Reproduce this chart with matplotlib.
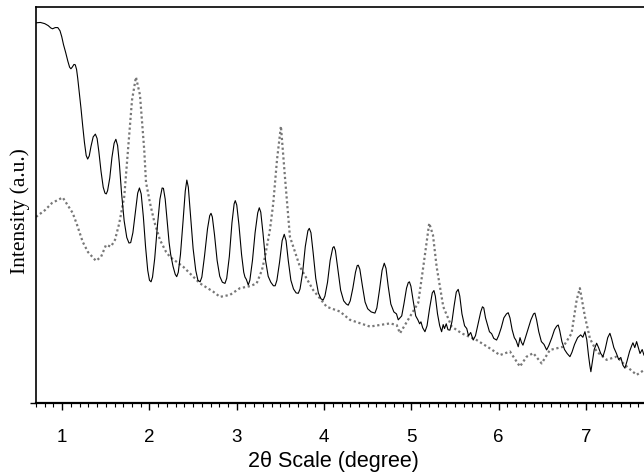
import matplotlib
matplotlib.use("Agg")
import matplotlib.pyplot as plt
from matplotlib.ticker import MultipleLocator

# Solid line (film, with Kiessig fringes)
film_x = [0.70, 0.75, 0.80, 0.84, 0.87, 0.89, 0.92, 0.95, 0.975, 0.995, 1.015, 1.04, 1.065, 1.085,
          1.10, 1.115, 1.135, 1.15, 1.165, 1.178, 1.195, 1.215, 1.235, 1.255, 1.275, 1.292, 1.31,
          1.33, 1.355, 1.38, 1.40, 1.42, 1.445, 1.47, 1.49, 1.505, 1.52, 1.545, 1.57, 1.595, 1.615,
          1.635, 1.655, 1.68, 1.71, 1.74, 1.765, 1.785, 1.81, 1.84, 1.865, 1.885, 1.905, 1.93,
          1.955, 1.98, 2.00, 2.018, 2.035, 2.06, 2.09, 2.12, 2.145, 2.16, 2.18, 2.205, 2.225,
          2.243, 2.27, 2.295, 2.312, 2.33, 2.355, 2.385, 2.41, 2.428, 2.445, 2.47, 2.50, 2.53,
          2.555, 2.58, 2.60, 2.63, 2.665, 2.69, 2.705, 2.72, 2.745, 2.775, 2.805, 2.835, 2.865,
          2.885, 2.915, 2.945, 2.97, 2.983, 3.00, 3.025, 3.055, 3.08, 3.094, 3.11, 3.132, 3.15,
          3.18, 3.21, 3.24, 3.258, 3.275, 3.30, 3.33, 3.36, 3.39, 3.42, 3.44, 3.46, 3.49, 3.52,
          3.544, 3.565, 3.59, 3.62, 3.65, 3.68, 3.705, 3.725, 3.755, 3.785, 3.815, 3.831, 3.85,
          3.875, 3.905, 3.935, 3.965, 3.99, 4.01, 4.04, 4.07, 4.10, 4.114, 4.13, 4.16, 4.19,
          4.225, 4.255, 4.277, 4.30, 4.33, 4.36, 4.38, 4.392, 4.41, 4.44, 4.47, 4.50, 4.54,
          4.583, 4.605, 4.635, 4.665, 4.69, 4.71, 4.735, 4.765, 4.80, 4.83, 4.85, 4.87, 4.89,
          4.915, 4.945, 4.965, 4.978, 4.995, 5.02, 5.05, 5.075, 5.095, 5.11, 5.13, 5.156, 5.18,
          5.21, 5.24, 5.259, 5.275, 5.30, 5.325, 5.347, 5.365, 5.38, 5.40, 5.42, 5.442, 5.465,
          5.49, 5.515, 5.537, 5.555, 5.58, 5.61, 5.635, 5.655, 5.68, 5.709, 5.735, 5.765, 5.795,
          5.815, 5.83, 5.85, 5.875, 5.895, 5.92, 5.945, 5.977, 6.00, 6.03, 6.06, 6.09, 6.11,
          6.13, 6.155, 6.18, 6.20, 6.225, 6.245, 6.262, 6.279, 6.30, 6.335, 6.37, 6.40, 6.416,
          6.435, 6.46, 6.49, 6.52, 6.55, 6.575, 6.61, 6.64, 6.665, 6.683, 6.70, 6.725, 6.755,
          6.785, 6.817, 6.84, 6.87, 6.905, 6.94, 6.965, 6.989, 7.01, 7.03, 7.045, 7.057, 7.075,
          7.095, 7.123, 7.145, 7.17, 7.195, 7.22, 7.25, 7.275, 7.295, 7.32, 7.35, 7.375, 7.40,
          7.425, 7.447, 7.47, 7.50, 7.525, 7.539, 7.56, 7.581, 7.60, 7.62, 7.645, 7.665]
film_y = [96.0, 96.1, 95.8, 95.3, 94.7, 94.5, 94.8, 94.8, 94.0, 92.5, 90.5, 88.5, 86.3, 84.8,
          84.4, 84.8, 85.5, 85.4, 84.2, 82.0, 78.5, 74.5, 70.0, 65.8, 62.5, 61.6, 62.4,
          64.8, 67.2, 67.9, 66.8, 63.5, 58.5, 54.5, 53.0, 52.8, 53.6, 56.8, 62.0, 65.6, 66.6,
          65.0, 60.5, 53.0, 46.0, 41.8, 40.4, 40.5, 43.0, 48.5, 53.0, 54.3, 52.8, 47.0,
          39.5, 33.5, 31.0, 30.6, 31.8, 36.5, 44.5, 51.5, 54.3, 54.2, 51.5, 45.5, 40.5,
          37.5, 34.5, 32.5, 31.9, 33.0, 37.5, 46.0, 53.5, 56.3, 54.5, 47.5, 39.0, 33.5,
          31.0, 30.6, 31.8, 37.0, 44.0, 47.3, 47.9, 47.0, 42.5, 36.0, 32.0, 30.5, 30.2,
          31.5, 37.0, 45.5, 50.3, 51.1, 50.0, 45.0, 37.5, 33.0, 31.8, 31.2, 29.8, 31.0,
          36.0, 43.0, 48.0, 49.3, 48.2, 43.0, 36.0, 32.0, 30.5, 29.6, 29.6, 31.0, 35.5, 41.0,
          42.6, 41.0, 36.0, 31.0, 28.8, 27.8, 27.7, 28.8, 33.0, 39.5, 43.5, 44.1, 43.0,
          38.0, 31.5, 27.8, 26.3, 26.0, 27.0, 30.5, 36.0, 39.2, 39.5, 38.5, 33.5, 28.5,
          25.8, 25.0, 24.7, 25.8, 29.0, 33.0, 34.7, 34.8, 33.8, 29.5, 25.5, 23.8, 23.0,
          22.7, 24.0, 28.5, 33.5, 35.3, 34.0, 29.5, 25.0, 23.0, 22.5, 21.0, 21.5, 22.0,
          25.0, 29.0, 30.4, 30.6, 29.5, 26.0, 22.0, 21.0, 20.0, 20.5, 19.0, 18.0, 19.5,
          24.0, 27.8, 28.4, 27.0, 22.5, 19.5, 18.0, 19.8, 18.8, 20.0, 18.5, 18.4, 20.5,
          24.5, 28.0, 28.7, 27.0, 22.5, 19.5, 18.8, 17.0, 17.8, 15.9, 17.0, 20.0, 23.0,
          24.3, 24.0, 21.5, 19.5, 18.0, 17.5, 16.3, 15.9, 17.0, 19.0, 21.5, 22.5, 22.8,
          21.5, 18.5, 16.5, 15.8, 14.2, 16.5, 15.3, 14.6, 16.0, 18.5, 21.0, 22.5, 22.7,
          21.0, 18.0, 15.5, 14.8, 13.4, 14.5, 16.5, 18.5, 19.4, 19.7, 18.3, 15.5, 13.5,
          12.5, 11.7, 12.8, 14.8, 16.5, 17.2, 16.6, 18.0, 16.0, 12.0, 9.5, 7.9, 10.5,
          13.5, 15.1, 14.0, 12.5, 11.7, 13.5, 16.5, 17.6, 16.2, 14.0, 12.5, 11.0, 11.5,
          9.5, 8.8, 10.5, 13.0, 14.5, 15.2, 14.0, 15.5, 14.0, 12.5, 13.5, 12.1]

# Dotted line (powder, Bragg reflections)
powder_x = [0.70, 0.803, 0.883, 1.006, 1.120, 1.170, 1.235, 1.296, 1.387, 1.445, 1.502, 1.559,
            1.605, 1.654, 1.711, 1.754, 1.80, 1.845, 1.891, 1.940, 1.960, 2.006, 2.055, 2.120,
            2.189, 2.235, 2.387, 2.579, 2.731, 2.808, 2.922, 3.037, 3.151, 3.228, 3.289, 3.323,
            3.380, 3.418, 3.461, 3.506, 3.552, 3.609, 3.724, 3.876, 4.030, 4.182, 4.297, 4.526,
            4.755, 4.832, 4.870, 4.984, 5.079, 5.137, 5.205, 5.248, 5.290, 5.366, 5.462, 5.576,
            5.748, 5.900, 6.015, 6.130, 6.244, 6.321, 6.397, 6.493, 6.588, 6.740, 6.836, 6.894,
            6.931, 6.989, 7.046, 7.123, 7.237, 7.352, 7.447, 7.581, 7.665]
powder_y = [47.0, 48.7, 50.5, 51.9, 48.0, 45.0, 40.7, 38.1, 35.9, 36.9, 39.9, 39.5,
            41.2, 45.4, 52.1, 63.9, 76.5, 82.3, 77.8, 63.9, 55.8, 50.5, 45.8, 41.2,
            38.2, 36.9, 34.4, 30.2, 28.1, 26.8, 27.3, 29.0, 29.5, 30.2, 33.6, 36.9,
            43.7, 50.4, 61.4, 69.9, 57.1, 42.0, 34.4, 28.5, 24.3, 23.1, 21.0, 19.3,
            20.1, 19.7, 17.6, 21.8, 25.3, 34.4, 45.4, 42.4, 34.4, 24.3, 19.3, 17.6,
            15.9, 13.8, 12.1, 13.0, 9.2, 11.7, 12.6, 10.0, 13.4, 14.2, 17.6, 26.0,
            29.0, 21.8, 16.3, 13.0, 10.9, 11.7, 9.6, 7.1, 8.3]

x_ticks = [1, 2, 3, 4, 5, 6, 7]

fig = plt.figure(figsize=(6.44, 4.74), dpi=100)
ax = fig.add_axes([36/644, 71/474, 611/644, 396/474])

ax.plot(powder_x, powder_y, color="#777777", linestyle=(0, (1, 1.2)), linewidth=1.6)
ax.plot(film_x, film_y, color="black", linewidth=0.8)

ax.set_xlim(0.7, 7.7)
ax.set_ylim(0, 100)
ax.set_xticks(x_ticks)
ax.xaxis.set_minor_locator(MultipleLocator(0.1))
ax.set_yticks([0])
ax.set_yticklabels([""])
ax.tick_params(axis="x", which="major", direction="out", length=5, width=1, pad=14,
               labelsize=13.5)
ax.tick_params(axis="x", which="minor", direction="out", length=3, width=0.8)
ax.tick_params(axis="y", direction="out", length=4, width=1, pad=0)
for lab in ax.get_xticklabels():
    lab.set_fontfamily("Liberation Sans")

for s in ["left", "top", "right"]:
    ax.spines[s].set_linewidth(1.2)
ax.spines["bottom"].set_linewidth(1.6)

ax.set_xlabel("2θ Scale (degree)", fontfamily="Liberation Sans", fontsize=15.5)
ax.xaxis.set_label_coords(333/644, 1 - 462/474, transform=fig.transFigure)
ax.xaxis.label.set_verticalalignment("center")

ax.set_ylabel("Intensity (a.u.)", fontfamily="Liberation Serif", fontsize=15.5)
ax.yaxis.set_label_coords(20/644, 1 - 211/474, transform=fig.transFigure)
ax.yaxis.label.set_verticalalignment("center")

fig.savefig("out.png", dpi=100)
